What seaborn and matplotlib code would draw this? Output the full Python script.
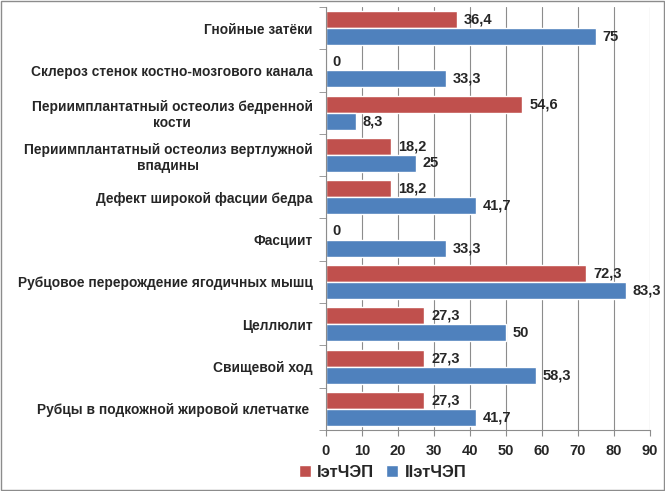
import pandas as pd
import numpy as np
import matplotlib.pyplot as plt
import seaborn as sns
from matplotlib.ticker import MultipleLocator, FixedLocator

categories = ['Гнойные затёки',
              'Склероз стенок костно-мозгового канала',
              'Периимплантатный остеолиз бедренной\nкости',
              'Периимплантатный остеолиз вертлужной\nвпадины',
              'Дефект широкой фасции бедра',
              'Фасциит',
              'Рубцовое перерождение ягодичных мышц',
              'Целлюлит',
              'Свищевой ход',
              'Рубцы в подкожной жировой клетчатке ']
series_names = ['IэтЧЭП', 'IIэтЧЭП']
values_1 = [36.4, 0, 54.6, 18.2, 18.2, 0, 72.3, 27.3, 27.3, 27.3]
values_2 = [75, 33.3, 8.3, 25, 41.7, 33.3, 83.3, 50, 58.3, 41.7]
colors = ['#C0504D', '#4F81BD']

df = pd.DataFrame({
    'cat': categories * 2,
    'series': [series_names[0]] * len(categories) + [series_names[1]] * len(categories),
    'value': values_1 + values_2,
})

sns.set_style('white')
plt.rcParams['font.family'] = ['Liberation Sans', 'DejaVu Sans']
plt.rcParams['font.weight'] = 'bold'

fig = plt.figure(figsize=(6.65, 4.91), dpi=100)
ax = fig.add_axes([0.490, 0.124, 0.487, 0.862])
sns.barplot(data=df, y='cat', x='value', hue='series', hue_order=series_names,
            palette=colors, saturation=1, orient='h', width=0.8, ax=ax, legend=True)

for cont in ax.containers:
    labels = [('%g' % v).replace('.', ',') for v in cont.datavalues]
    ax.bar_label(cont, labels=labels, padding=5, fontsize=10.5, fontweight='bold')

ax.set_xlim(0, 90)
ax.xaxis.set_major_locator(MultipleLocator(10))
ax.grid(axis='x', color='#8c8c8c', linewidth=0.8)
ax.set_axisbelow(True)
ax.set_xlabel('')
ax.set_ylabel('')
for s in ['top', 'right']:
    ax.spines[s].set_visible(False)
ax.spines['left'].set_color('#8c8c8c')
ax.spines['bottom'].set_color('#8c8c8c')
ax.tick_params(axis='x', bottom=True, length=4, color='#8c8c8c', labelsize=10.5, pad=6)
ax.set_yticks(range(len(categories)))
ax.set_yticklabels(categories, multialignment='center', fontsize=9.9, fontweight='bold')
ax.tick_params(axis='y', left=False, pad=6)
ax.yaxis.set_minor_locator(FixedLocator(np.arange(-0.5, len(categories), 1)))
ax.tick_params(axis='y', which='minor', left=True, length=5, color='#8c8c8c')

ax.legend(loc='center', bbox_to_anchor=(0.175, -0.10), ncol=2, frameon=False,
          fontsize=12, handlelength=0.7, handleheight=0.7, columnspacing=0.7,
          handletextpad=0.4)

fig.patches.append(plt.Rectangle((0.002, 0.002), 0.996, 0.996, transform=fig.transFigure,
                                 fill=False, edgecolor='#8c8c8c', linewidth=1))
fig.savefig('out.png', dpi=100)
